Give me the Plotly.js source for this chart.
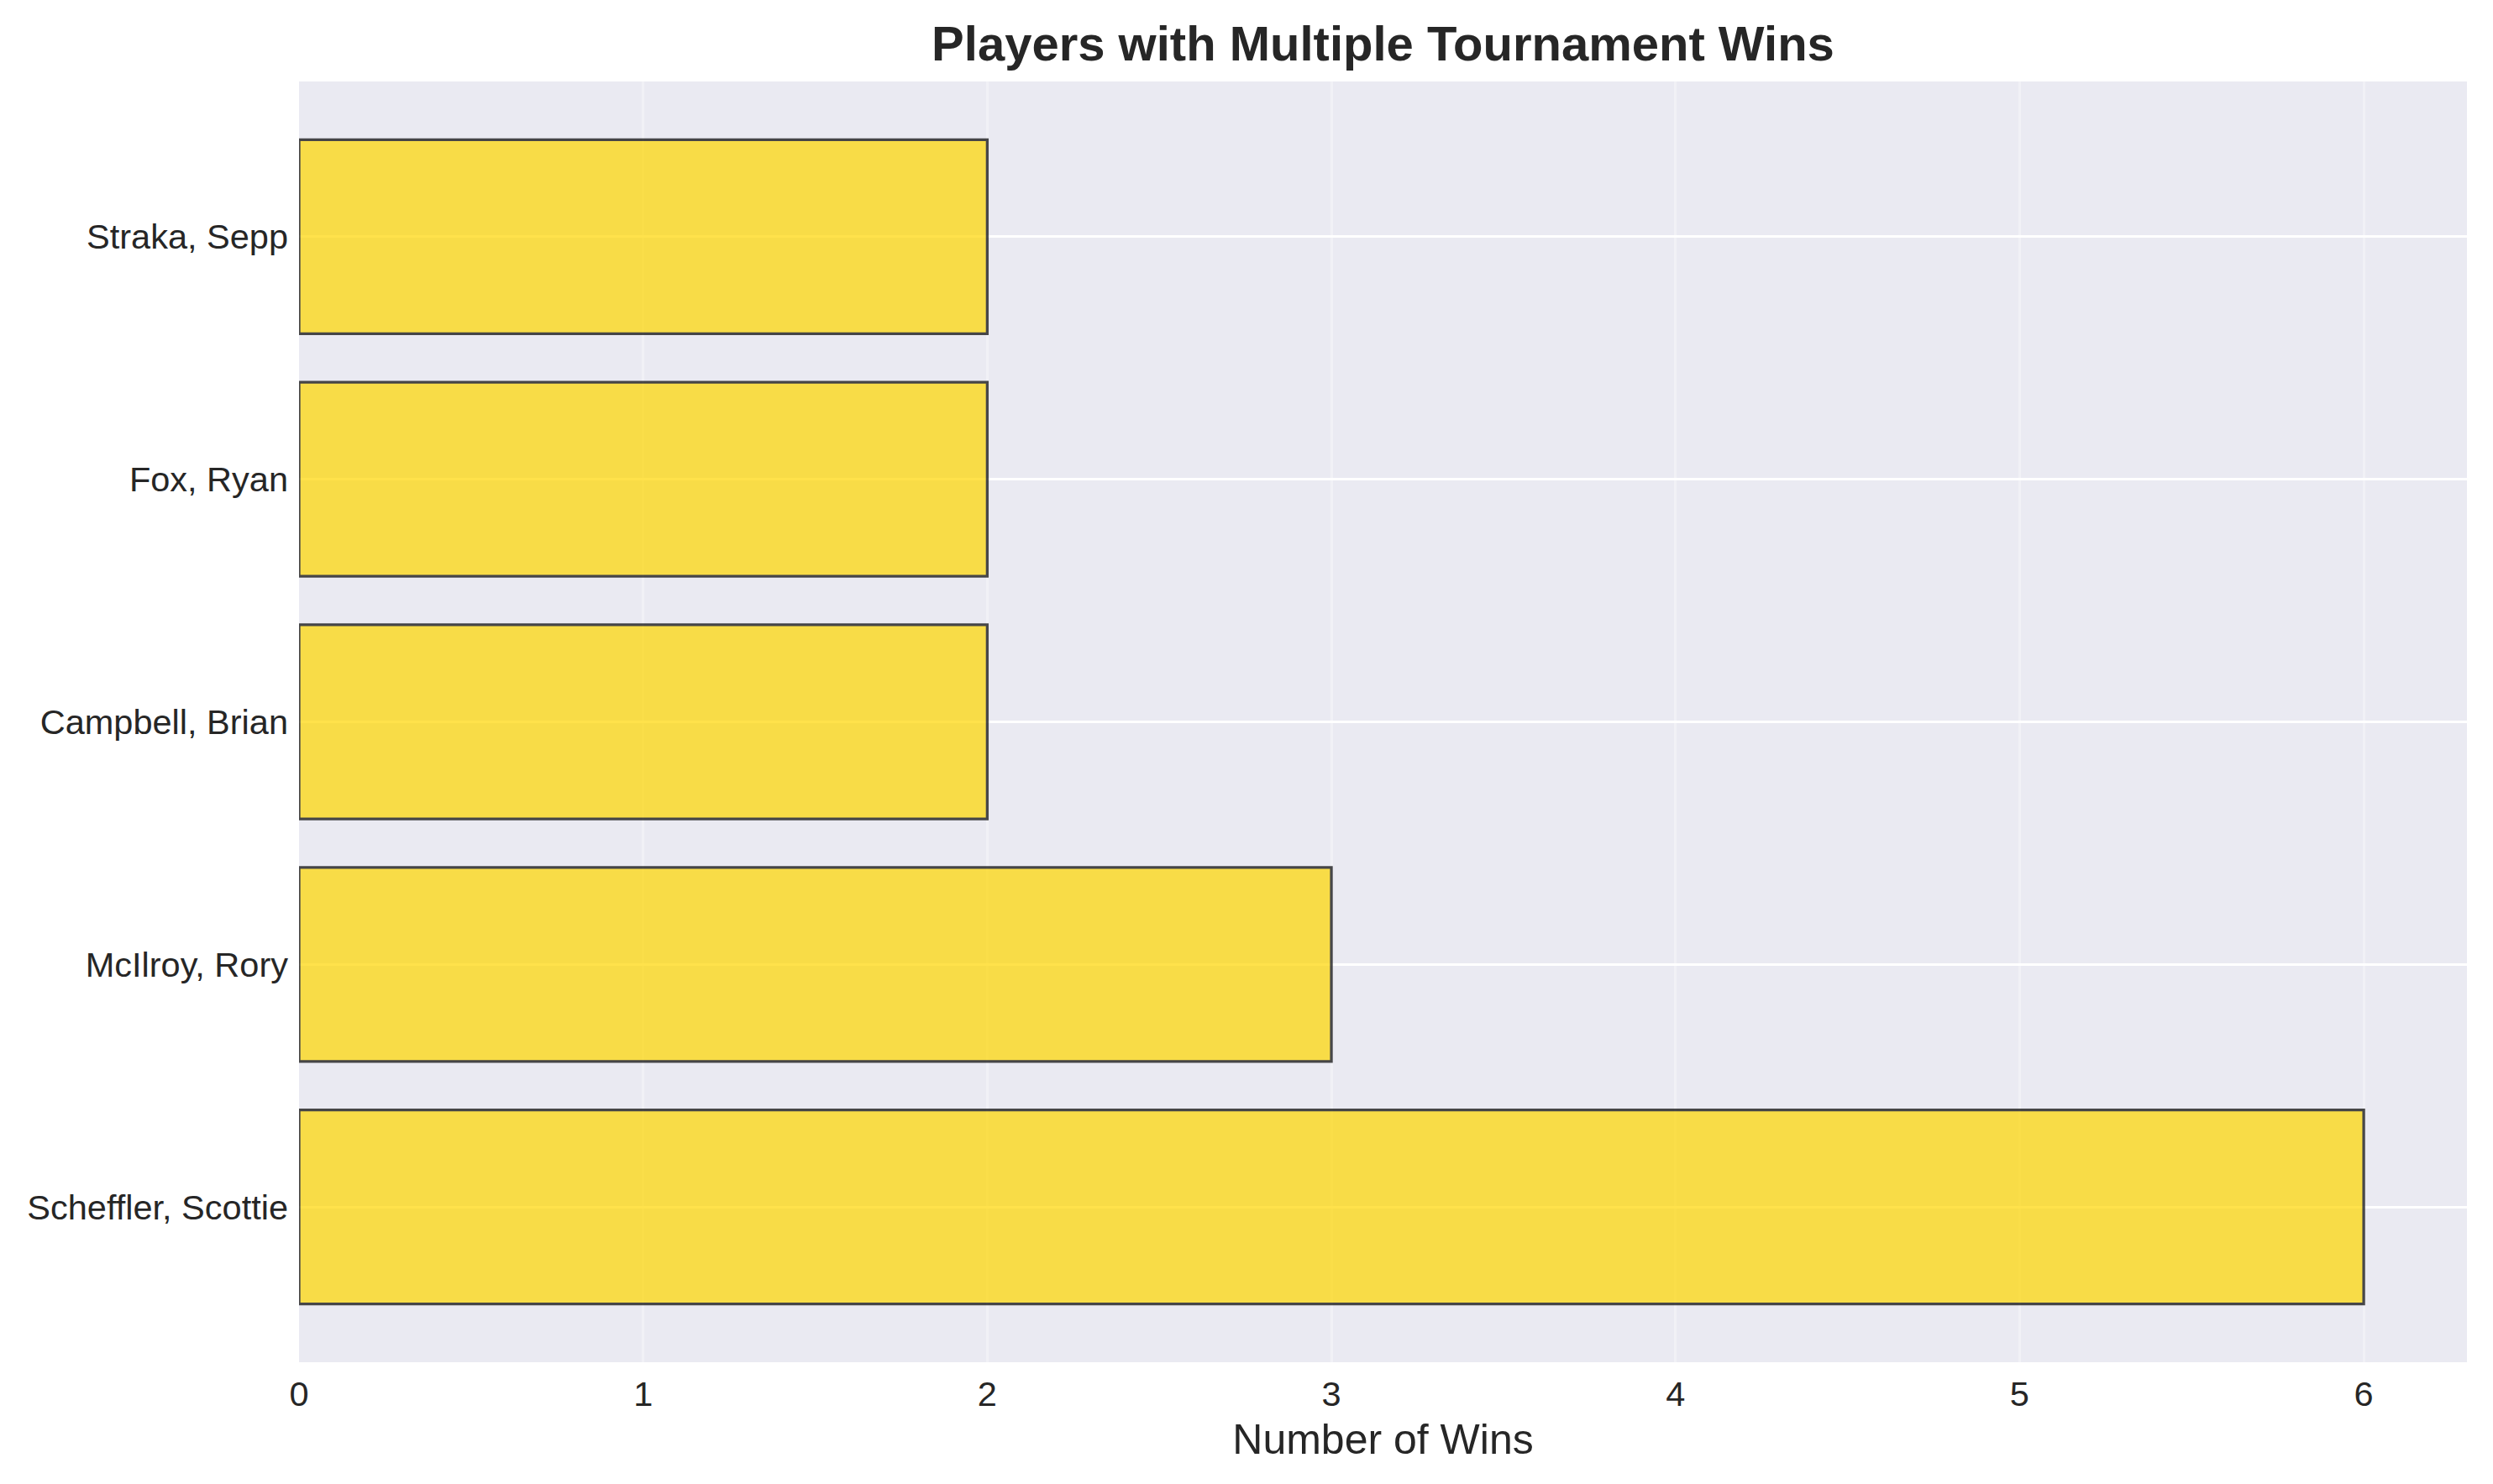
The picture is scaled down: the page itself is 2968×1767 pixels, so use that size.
<!DOCTYPE html>
<html>
<head>
<meta charset="utf-8">
<script src="https://cdn.plot.ly/plotly-3.0.1.min.js"></script>
<style>html,body{margin:0;padding:0;background:#fff;}#chart{width:2968px;height:1767px;}</style>
</head>
<body>
<div id="chart"></div>
<script>
const players = ["Scheffler, Scottie", "McIlroy, Rory", "Campbell, Brian", "Fox, Ryan", "Straka, Sepp"];
const wins = [6, 3, 2, 2, 2];
const xTicks = [0, 1, 2, 3, 4, 5, 6];
const titleText = "Players with Multiple Tournament Wins";
const xTitle = "Number of Wins";

const trace = {
  type: "bar",
  orientation: "h",
  x: wins,
  y: players,
  marker: {
    color: "#FFD700",
    opacity: 0.7,
    line: {color: "#000000", width: 3.3}
  },
  hoverinfo: "x+y"
};

const layout = {
  width: 2968,
  height: 1767,
  margin: {l: 356, r: 31, t: 97, b: 145},
  paper_bgcolor: "#ffffff",
  plot_bgcolor: "#EAEAF2",
  font: {family: "Liberation Sans, Arial, sans-serif", color: "#262626", size: 41.5},
  bargap: 0.2,
  showlegend: false,
  title: {
    text: "<b>" + titleText + "</b>",
    font: {size: 58, color: "#262626", family: "Liberation Sans, Arial, sans-serif"},
    x: 0.5, xref: "paper", xanchor: "center",
    y: 1 - 52 / 1767, yref: "container", yanchor: "middle"
  },
  xaxis: {
    range: [0, 6.3],
    tickvals: xTicks,
    ticktext: xTicks.map(String),
    showgrid: true,
    gridcolor: "rgba(255,255,255,0.35)",
    gridwidth: 3,
    zeroline: false,
    showline: false,
    ticks: "",
    ticklabelstandoff: 9,
    tickfont: {size: 41.5, color: "#262626"},
    title: {text: xTitle, font: {size: 50, color: "#262626"}, standoff: 14}
  },
  yaxis: {
    type: "category",
    categoryorder: "array",
    categoryarray: players,
    range: [-0.64, 4.64],
    showgrid: true,
    gridcolor: "#ffffff",
    gridwidth: 3,
    zeroline: false,
    showline: false,
    ticks: "",
    ticklabelstandoff: 12,
    tickfont: {size: 41.5, color: "#262626"}
  }
};

Plotly.newPlot("chart", [trace], layout, {displayModeBar: false, staticPlot: true});
</script>
</body>
</html>
